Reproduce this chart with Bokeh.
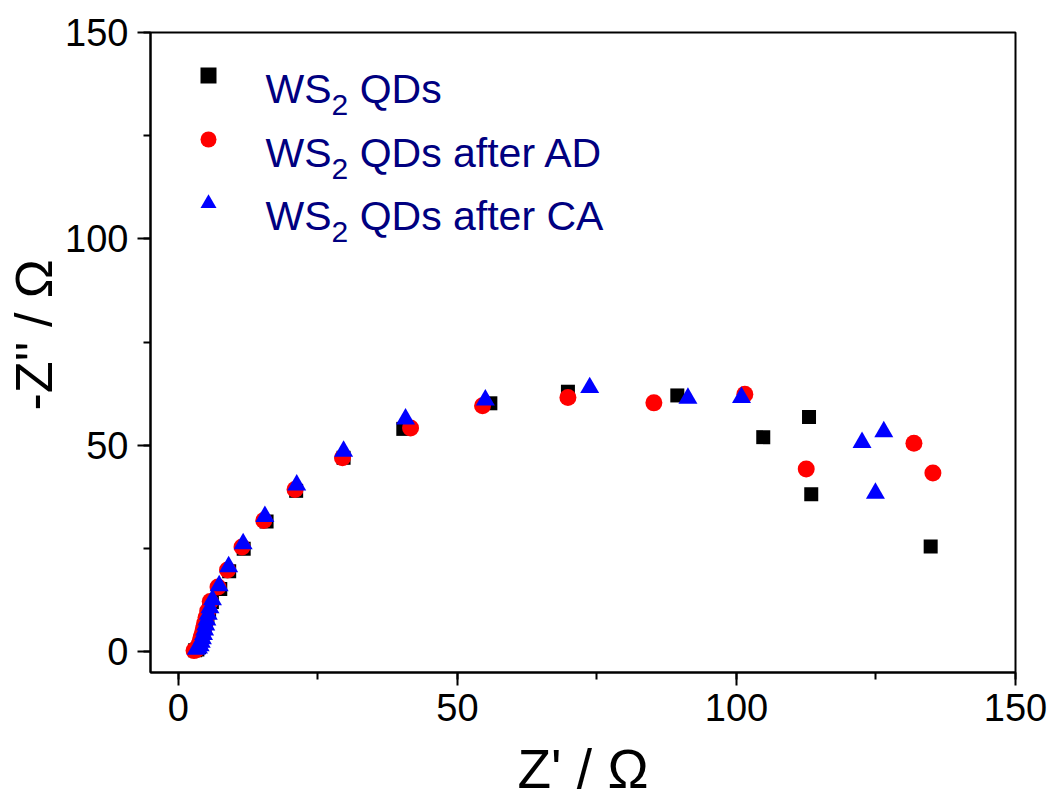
from bokeh.plotting import figure
from bokeh.models import Range1d, SingleIntervalTicker, Label, Legend, LegendItem, Title
from bokeh.embed import file_html
from bokeh.resources import INLINE

# ---- data (Z' / Ohm, -Z'' / Ohm) ----
qd_re = [3.0, 3.4, 3.7, 3.9, 4.1, 4.3, 4.5, 4.7, 4.95, 5.2, 5.5, 6.0, 7.5, 9.1, 11.7, 15.8,
         21.1, 29.6, 40.3, 55.9, 69.8, 89.4, 104.8, 113.0, 113.4, 134.8]
qd_im = [0.4, 0.6, 1.2, 2.0, 2.8, 3.7, 4.7, 5.8, 7.0, 8.4, 10.0, 12.1, 15.2, 19.5, 25.0, 31.6,
         39.0, 47.0, 54.0, 60.2, 63.0, 62.1, 52.0, 56.9, 38.2, 25.5]

ad_re = [2.8, 3.2, 3.5, 3.7, 3.9, 4.1, 4.3, 4.5, 4.7, 4.95, 5.25, 5.7, 7.1, 8.8, 11.4, 15.3,
         20.9, 29.4, 41.6, 54.5, 69.8, 85.2, 101.5, 112.5, 131.8, 135.2]
ad_im = [0.3, 0.5, 1.0, 1.8, 2.7, 3.6, 4.6, 5.7, 6.9, 8.3, 9.9, 12.2, 15.7, 19.8, 25.4, 31.8,
         39.3, 47.0, 54.2, 59.6, 61.6, 60.3, 62.4, 44.3, 50.5, 43.3]

ca_re = [3.2, 3.6, 3.9, 4.1, 4.3, 4.5, 4.7, 4.9, 5.1, 5.35, 5.65, 6.1, 7.3, 9.0, 11.6, 15.5,
         21.2, 29.6, 40.7, 55.0, 73.7, 91.3, 100.9, 122.5, 126.4, 124.9]
ca_im = [0.6, 0.9, 1.5, 2.3, 3.2, 4.2, 5.3, 6.5, 7.7, 9.1, 10.7, 12.6, 16.0, 20.6, 26.2, 32.8,
         40.4, 48.6, 56.4, 61.0, 64.0, 61.4, 61.6, 50.7, 53.3, 38.4]

legend_main = ["WS", "WS", "WS"]
legend_sub = ["2", "2", "2"]
legend_rest = ["QDs", "QDs after AD", "QDs after CA"]
x_label = "Z' / \u03a9"
y_label = "-Z'' / \u03a9"

FONT = "Liberation Sans"

p = figure(width=1054, height=803, x_range=Range1d(-5, 150), y_range=Range1d(-5, 150),
           output_backend="svg", toolbar_location=None,
           min_border_left=150, min_border_right=39, min_border_top=32, min_border_bottom=131)
p.grid.visible = False
p.outline_line_color = "black"
p.outline_line_width = 2
p.outline_line_alpha = 1

for ax in (p.xaxis[0], p.yaxis[0]):
    ax.ticker = SingleIntervalTicker(interval=50, num_minor_ticks=2)
    ax.axis_line_width = 2
    ax.axis_line_color = "black"
    ax.major_tick_line_width = 2
    ax.minor_tick_line_width = 2
    ax.major_tick_out = 13
    ax.major_tick_in = 0
    ax.minor_tick_out = 7
    ax.minor_tick_in = 0
    ax.major_label_text_font = FONT
    ax.major_label_text_font_size = "38px"
    ax.major_label_text_color = "black"
    ax.axis_label_text_font = FONT
    ax.axis_label_text_font_style = "normal"
    ax.axis_label_text_color = "black"

p.xaxis.major_label_standoff = 8
p.yaxis.major_label_standoff = 9
p.xaxis.axis_label = x_label
p.xaxis.axis_label_text_font_size = "55px"
p.xaxis.axis_label_standoff = 14

# y-axis title as a side title so it can be shifted along the axis
p.add_layout(Title(text=y_label, align="left", offset=262, standoff=0,
                   text_font=FONT, text_font_size="52px", text_font_style="normal",
                   text_color="black"), "left")

r1 = p.scatter(qd_re, qd_im, marker="square", size=14, fill_color="black", line_color=None)
r2 = p.scatter(ad_re, ad_im, marker="circle", size=17, fill_color="red", line_color=None)
r3 = p.scatter(ca_re, ca_im, marker="triangle", size=19, fill_color="blue", line_color=None)

legend = Legend(items=[LegendItem(label=" ", renderers=[r]) for r in (r1, r2, r3)],
                location="top_left", margin=0, padding=23,
                glyph_width=70, glyph_height=40, label_height=40, label_width=1,
                spacing=24, label_standoff=0, label_text_font_size="10px",
                background_fill_alpha=0, border_line_alpha=0)
p.add_layout(legend)

# legend texts with subscript
main_fs, sub_fs = 41, 30
w_main = (0.944 + 0.667) * main_fs
w_sub = 0.556 * sub_fs
w_space = 0.278 * main_fs
x0 = 115
baselines = [583.5, 520, 456.5]
for m, s, rtxt, yb in zip(legend_main, legend_sub, legend_rest, baselines):
    p.add_layout(Label(x=x0, y=yb, x_units="screen", y_units="screen", text=m,
                       text_font=FONT, text_font_size=f"{main_fs}px",
                       text_color="#000080", text_baseline="alphabetic", text_align="left"))
    p.add_layout(Label(x=x0 + w_main, y=yb - 16, x_units="screen", y_units="screen", text=s,
                       text_font=FONT, text_font_size=f"{sub_fs}px",
                       text_color="#000080", text_baseline="alphabetic", text_align="left"))
    p.add_layout(Label(x=x0 + w_main + w_sub + w_space, y=yb, x_units="screen", y_units="screen",
                       text=rtxt, text_font=FONT, text_font_size=f"{main_fs}px",
                       text_color="#000080", text_baseline="alphabetic", text_align="left"))

open("out.html", "w").write(file_html(p, INLINE))
